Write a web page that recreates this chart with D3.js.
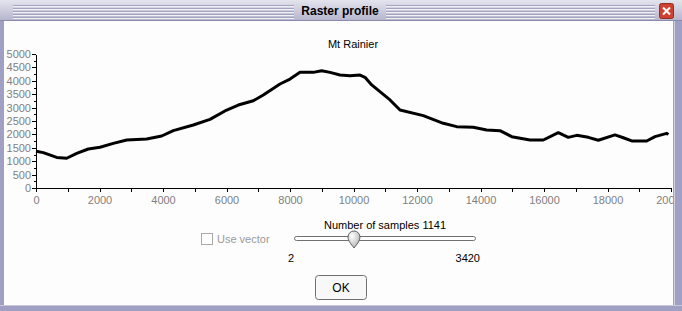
<!DOCTYPE html>
<html lang="en">
<head>
<meta charset="UTF-8">
<title>Raster profile</title>
<script src="https://d3js.org/d3.v7.min.js"></script>
<style>
  html, body { margin: 0; padding: 0; background: #fff; }
  svg { display: block; font-family: "Liberation Sans", Arial, sans-serif; }
  .axis path, .axis line { stroke: #000; shape-rendering: crispEdges; }
  .axis text { fill: #808080; font-size: 11px; }
</style>
</head>
<body>
<svg id="win" width="682" height="311"></svg>
<script>
// profile samples: distance along the line, elevation
const distances = [0, 230, 652, 967, 1282, 1647, 2016, 2435, 2857, 3487, 3959, 4324, 4954, 5480,
  6006, 6372, 6844, 7159, 7685, 8000, 8315, 8734, 8998, 9260, 9575, 9890, 10205, 10362, 10573,
  11150, 11465, 12198, 12828, 13250, 13773, 14195, 14614, 14983, 15559, 15978, 16450, 16765,
  17030, 17395, 17710, 18236, 18498, 18762, 19235, 19496, 19865, 19915];
const elevations = [1370, 1320, 1140, 1110, 1290, 1455, 1520, 1665, 1790, 1830, 1940, 2140, 2350, 2560,
  2910, 3095, 3255, 3470, 3880, 4065, 4315, 4315, 4375, 4315, 4215, 4190, 4215, 4130, 3845,
  3285, 2910, 2700, 2415, 2290, 2265, 2165, 2140, 1915, 1790, 1790, 2065, 1890,
  1965, 1890, 1780, 1980, 1875, 1755, 1755, 1915, 2040, 1990];
const xTickLabels = [0, 2000, 4000, 6000, 8000, 10000, 12000, 14000, 16000, 18000, 20000];
const yTickLabels = [0, 500, 1000, 1500, 2000, 2500, 3000, 3500, 4000, 4500, 5000];

const svg = d3.select('#win');
const W = 682, H = 311;
const defs = svg.append('defs');

// window body
svg.append('rect').attr('width', W).attr('height', H).attr('fill', '#fdfdfd');

// plot area
const x = d3.scaleLinear().domain([0, 20000]).range([36, 671]);
const y = d3.scaleLinear().domain([0, 5000]).range([188, 54]);

svg.append('text').attr('x', 353).attr('y', 48).attr('text-anchor', 'middle')
  .attr('font-size', 11).attr('fill', '#000').text('Mt Rainier');

const xAxis = d3.axisBottom(x)
  .tickValues(d3.range(0, 20001, 1000))
  .tickFormat(d => xTickLabels.includes(d) ? String(d) : '')
  .tickSize(4).tickPadding(4).tickSizeOuter(0);
svg.append('g').attr('class', 'axis').attr('transform', 'translate(0,188)').call(xAxis);

const yMinor = d3.axisLeft(y)
  .tickValues(d3.range(250, 5000, 500))
  .tickFormat('').tickSize(2).tickSizeOuter(0);
svg.append('g').attr('class', 'axis').attr('transform', 'translate(36,0)').call(yMinor);

const yAxis = d3.axisLeft(y)
  .tickValues(yTickLabels)
  .tickFormat(d => String(d))
  .tickSize(4).tickPadding(1).tickSizeOuter(0);
svg.append('g').attr('class', 'axis').attr('transform', 'translate(36,0)').call(yAxis);

const line = d3.line().x(d => x(d[0])).y(d => y(d[1]));
svg.append('path')
  .datum(d3.zip(distances, elevations))
  .attr('d', line)
  .attr('fill', 'none').attr('stroke', '#000')
  .attr('stroke-width', 3).attr('stroke-linejoin', 'round');

// controls under the chart
const ctl = svg.append('g').attr('font-size', 11);
ctl.append('rect').attr('x', 201.5).attr('y', 233.5).attr('width', 11).attr('height', 11)
  .attr('fill', '#fff').attr('stroke', '#a8a8a8');
ctl.append('text').attr('x', 217).attr('y', 243).attr('fill', '#9a9a9a').text('Use vector');

ctl.append('text').attr('x', 385).attr('y', 229).attr('text-anchor', 'middle')
  .attr('fill', '#000').text('Number of samples 1141');
ctl.append('rect').attr('x', 294.5).attr('y', 236.5).attr('width', 181).attr('height', 4).attr('rx', 2)
  .attr('fill', '#fff').attr('stroke', '#707070');
// slider thumb
const knob = defs.append('radialGradient').attr('id', 'knob')
  .attr('cx', '35%').attr('cy', '30%').attr('r', '70%');
knob.append('stop').attr('offset', '0%').attr('stop-color', '#ffffff');
knob.append('stop').attr('offset', '100%').attr('stop-color', '#b8b8b8');
ctl.append('path')
  .attr('transform', 'translate(354,0)')
  .attr('d', 'M-6,237 A6,6 0 0 1 6,237 C6,241 3,244 0,248 C-3,244 -6,241 -6,237 Z')
  .attr('fill', 'url(#knob)').attr('stroke', '#606060');

ctl.append('text').attr('x', 291).attr('y', 262).attr('text-anchor', 'middle').attr('fill', '#000').text('2');
ctl.append('text').attr('x', 480).attr('y', 262).attr('text-anchor', 'end').attr('fill', '#000').text('3420');

// OK button
ctl.append('rect').attr('x', 315.5).attr('y', 275.5).attr('width', 51).attr('height', 24).attr('rx', 3)
  .attr('fill', '#f8f8f8').attr('stroke', '#707070');
ctl.append('text').attr('x', 341).attr('y', 292).attr('text-anchor', 'middle').attr('fill', '#000')
  .attr('font-size', 12).text('OK');

// window frame
const frame = '#a0a0c4';
svg.append('rect').attr('x', 0).attr('y', 0).attr('width', 4).attr('height', H).attr('fill', frame);
svg.append('rect').attr('x', 673).attr('y', 0).attr('width', 9).attr('height', H).attr('fill', frame);
svg.append('rect').attr('x', 674).attr('y', 21).attr('width', 1).attr('height', H).attr('fill', '#d0d0e4');
svg.append('rect').attr('x', 0).attr('y', 305).attr('width', W).attr('height', 6).attr('fill', frame);
svg.append('rect').attr('x', 0).attr('y', 305).attr('width', W).attr('height', 1).attr('fill', '#c8c8dc');

// title bar
const tg = defs.append('linearGradient').attr('id', 'bar')
  .attr('x1', 0).attr('y1', 0).attr('x2', 0).attr('y2', 1);
tg.append('stop').attr('offset', '0%').attr('stop-color', '#e4e4ee');
tg.append('stop').attr('offset', '100%').attr('stop-color', '#b4b4cc');
svg.append('rect').attr('x', 0).attr('y', 0).attr('width', W).attr('height', 21).attr('fill', 'url(#bar)');
svg.append('rect').attr('x', 0).attr('y', 20).attr('width', W).attr('height', 1).attr('fill', '#8a8aae');
[5, 8, 11, 14, 17].forEach(yy => {
  [[13, 294], [386, 655]].forEach(([a, b]) => {
    svg.append('rect').attr('x', a).attr('y', yy).attr('width', b - a).attr('height', 1).attr('fill', '#a4a4c0');
    svg.append('rect').attr('x', a).attr('y', yy + 1).attr('width', b - a).attr('height', 1).attr('fill', '#f0f0f6');
  });
});
svg.append('text').attr('x', 340).attr('y', 15).attr('text-anchor', 'middle')
  .attr('font-size', 12).attr('font-weight', 'bold').attr('fill', '#000').text('Raster profile');

// close button
svg.append('rect').attr('x', 659.5).attr('y', 3.5).attr('width', 14).attr('height', 15).attr('rx', 2)
  .attr('fill', '#d04030').attr('stroke', '#903020');
svg.append('path').attr('d', 'M663,7.5 L670,14.5 M670,7.5 L663,14.5')
  .attr('stroke', '#fff').attr('stroke-width', 2);
</script>
</body>
</html>
